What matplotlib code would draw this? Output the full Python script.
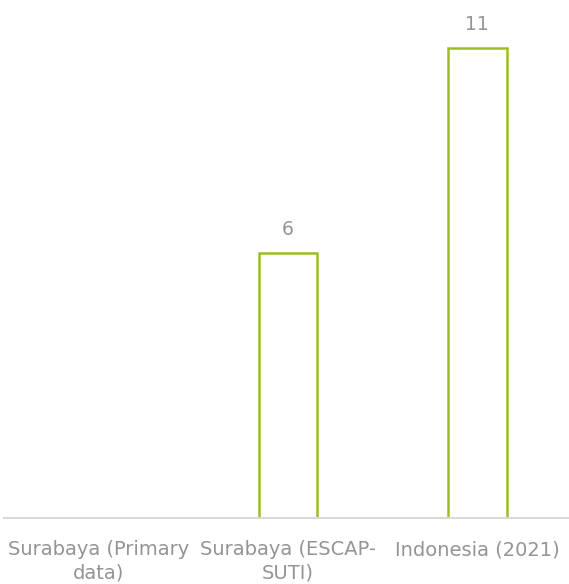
import matplotlib
matplotlib.use("Agg")
import matplotlib.pyplot as plt

categories = ["Surabaya (Primary\ndata)", "Surabaya (ESCAP-\nSUTI)", "Indonesia (2021)"]
values = [0, 6.2, 11.0]
labels = ["", "6", "11"]


def main():
    plt.rcParams["font.family"] = "DejaVu Sans"
    fig = plt.figure(figsize=(5.69, 5.84), dpi=100)
    ax = fig.add_axes([4 / 569, 66 / 584, 568 / 569, 498 / 584])
    x = range(len(categories))
    bars = ax.bar(x, values, width=0.31, facecolor="none",
                  edgecolor="#9dbd27", linewidth=1.8)
    for b, lab in zip(bars, labels):
        if b.get_height() == 0:
            b.set_visible(False)
        if lab:
            ax.text(b.get_x() + b.get_width() / 2, b.get_height() + 0.33, lab,
                    ha="center", va="bottom", fontsize=13.5, color="#949494")
    ax.set_xlim(-0.5, 2.5)
    ax.set_ylim(0, 11.66)
    ax.set_xticks(list(x))
    ax.set_xticklabels(categories, fontsize=14, color="#949494", linespacing=1.3)
    ax.tick_params(axis="x", length=0, pad=16)
    ax.set_yticks([])
    for s in ["top", "right", "left"]:
        ax.spines[s].set_visible(False)
    ax.spines["bottom"].set_color("#d9d9d9")
    ax.spines["bottom"].set_linewidth(1.5)
    fig.savefig("out.png", dpi=100)


if __name__ == "__main__":
    main()
